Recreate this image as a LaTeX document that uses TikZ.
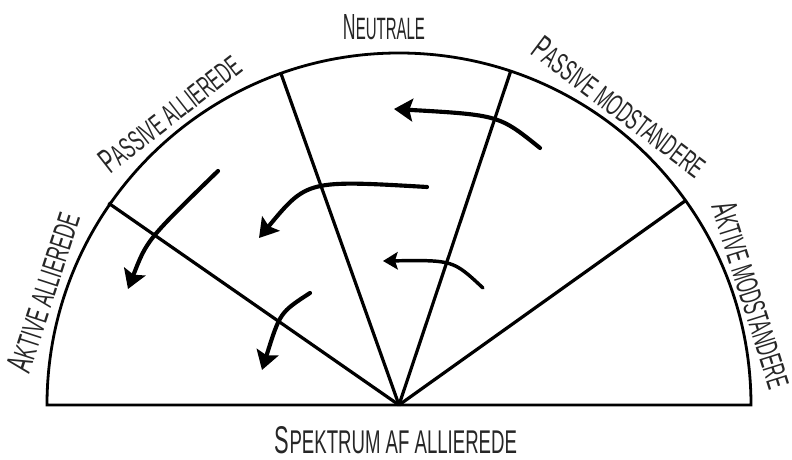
\documentclass[tikz,border=0pt]{standalone}
\usepackage{graphicx}
\usepackage{fontspec}
\setmainfont{Liberation Sans}
\usetikzlibrary{arrows.meta}
\newcommand{\lbl}[4]{\resizebox{#3pt}{#4pt}{{\fontsize{20}{20}\selectfont #1}{\fontsize{17}{17}\selectfont #2}}}
\tikzset{
  frame/.style={line width=2.1pt, line join=miter},
  spoke/.style={line width=2.4pt},
  lab/.style={inner sep=0pt, text=black!85},
  arr/.style={line width=3.1pt, line cap=round, -{Stealth[length=14pt,width=17pt,inset=2.5pt]}},
  arrs/.style={line width=2.6pt, line cap=round, -{Stealth[length=11pt,width=13pt,inset=2pt]}}
}
\begin{document}
\begin{tikzpicture}[x=0.75pt,y=0.75pt]
\useasboundingbox (-399,-55) rectangle (393,405);
\coordinate (C) at (0,0);
% frame: half circle
\draw[frame] (352,0) arc[start angle=0,end angle=180,radius=352] -- cycle;
% spokes
\coordinate (s1) at (35.5:353);
\coordinate (s2) at (71.5:353);
\coordinate (s3) at (109.6:353);
\coordinate (s4) at (145.2:354);
\foreach \s in {s1,s2,s3,s4} \draw[spoke] (C) -- (\s);
% labels
\node[lab] (neu) at (-15,377.5) {\lbl{N}{EUTRALE}{61.5}{18.75}};
\node[lab] (spek) at (-3,-35) {\lbl{S}{PEKTRUM AF ALLIEREDE}{181.5}{20.25}};
\node[lab, rotate=38] (pa) at (-229,292) {\lbl{P}{ASSIVE ALLIEREDE}{126.75}{18}};
\node[lab, rotate=-37] (pm) at (221,298) {\lbl{P}{ASSIVE MODSTANDERE}{156}{18}};
\node[lab, rotate=72] (aa) at (-356,113) {\lbl{A}{KTIVE ALLIEREDE}{123.75}{18.75}};
\node[lab, rotate=-72.5] (am) at (353,110) {\lbl{A}{KTIVE MODSTANDERE}{144.75}{18.75}};
% arrows
\coordinate (a1t) at (141,257); \coordinate (a1h) at (-5,296);
\coordinate (a2t) at (28,218);  \coordinate (a2h) at (-140,167);
\coordinate (a3t) at (-181,234); \coordinate (a3h) at (-271,116);
\coordinate (a4t) at (84,117);  \coordinate (a4h) at (-16,144);
\coordinate (a5t) at (-89,112); \coordinate (a5h) at (-137,35);
\draw[arr] (a1t) .. controls (100,290) .. (a1h);
\draw[arr] (a2t) .. controls (-92,225) .. (a2h);
\draw[arr] (a3t) .. controls (-252,165) .. (a3h);
\draw[arrs] (a4t) .. controls (54,145) .. (a4h);
\draw[arr] (a5t) .. controls (-119,92.5) .. (a5h);
\end{tikzpicture}
\end{document}
